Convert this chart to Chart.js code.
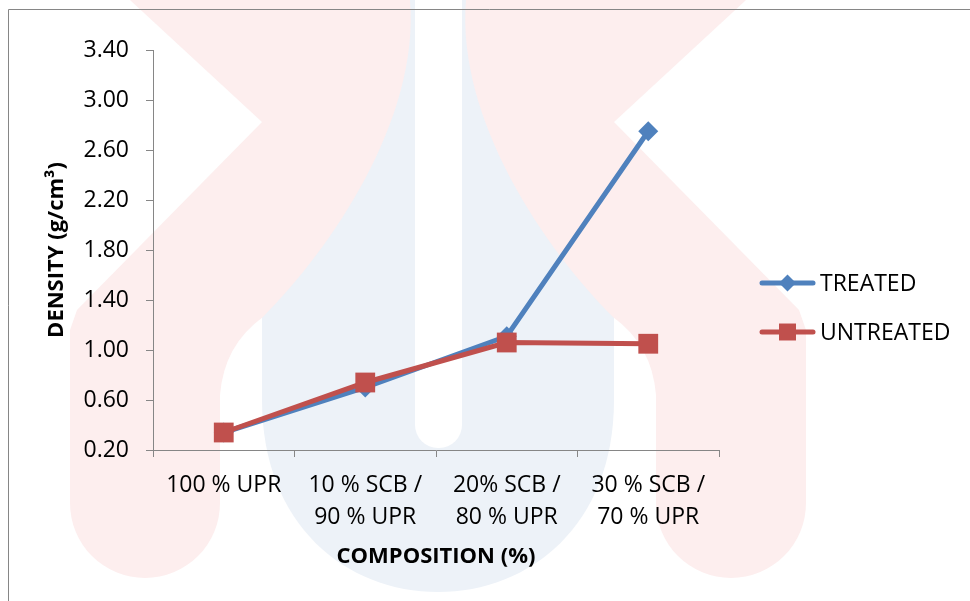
<!DOCTYPE html>
<html>
<head>
<meta charset="utf-8">
<script src="https://cdn.jsdelivr.net/npm/chart.js@4/dist/chart.umd.min.js"></script>
<style>
  html, body { margin: 0; padding: 0; background: #fff; }
  #c { display: block; }
</style>
</head>
<body>
<canvas id="c" width="970" height="601"></canvas>
<script>
// Composition categories (multi-line tick labels)
const categories = [
  ["100 % UPR"],
  ["10 % SCB /", "90 % UPR"],
  ["20% SCB /", "80 % UPR"],
  ["30 % SCB /", "70 % UPR"]
];

// Density values, g/cm³
const treated   = [0.34, 0.70, 1.11, 2.75];
const untreated = [0.34, 0.74, 1.06, 1.05];

// Y axis tick range
const yMin = 0.2;
const yMax = 3.4;
const yStep = 0.4;

const seriesNames = ["TREATED", "UNTREATED"];
const blue = "#4F81BD";
const red = "#C0504D";
const axisGrey = "#868686";
const FONT = "'Open Sans', 'DejaVu Sans', sans-serif";

function roundRectPath(ctx, x, y, w, h, r) {
  ctx.beginPath();
  ctx.moveTo(x + r, y);
  ctx.lineTo(x + w - r, y);
  ctx.arcTo(x + w, y, x + w, y + r, r);
  ctx.lineTo(x + w, y + h - r);
  ctx.arcTo(x + w, y + h, x + w - r, y + h, r);
  ctx.lineTo(x + r, y + h);
  ctx.arcTo(x, y + h, x, y + h - r, r);
  ctx.lineTo(x, y + r);
  ctx.arcTo(x, y, x + r, y, r);
  ctx.closePath();
}

// One half of the emblem: chevron-edged arm running down into a rounded leg
function emblemHalf(ctx) {
  ctx.beginPath();
  ctx.moveTo(130, 0);
  ctx.lineTo(262, 122);
  ctx.lineTo(77, 310);
  ctx.lineTo(70, 330);
  ctx.lineTo(70, 503);
  ctx.arc(145, 503, 75, Math.PI, 0, true);
  ctx.lineTo(220, 395);
  ctx.quadraticCurveTo(224, 345, 263, 317);
  ctx.bezierCurveTo(330, 250, 420, 120, 410, 0);
  ctx.closePath();
  ctx.fill();
}

// Pale background emblem and the chart frame
const backdrop = {
  id: "backdrop",
  beforeDraw(chart) {
    const ctx = chart.ctx;
    ctx.save();
    ctx.fillStyle = "#ffffff";
    ctx.fillRect(0, 0, chart.width, chart.height);

    const pink = "rgb(253,238,238)";
    const paleBlue = "rgb(237,242,248)";

    // blue U
    ctx.fillStyle = paleBlue;
    ctx.beginPath();
    ctx.moveTo(262, 0);
    ctx.lineTo(614, 0);
    ctx.lineTo(614, 400);
    ctx.bezierCurveTo(614, 525, 530, 592, 438, 592);
    ctx.bezierCurveTo(346, 592, 262, 525, 262, 400);
    ctx.closePath();
    ctx.fill();

    // pink halves, mirrored about the centre
    ctx.fillStyle = pink;
    emblemHalf(ctx);
    ctx.save();
    ctx.translate(876, 0);
    ctx.scale(-1, 1);
    emblemHalf(ctx);
    ctx.restore();

    // centre slot
    ctx.fillStyle = "#ffffff";
    roundRectPath(ctx, 415, -30, 47, 478, 23); ctx.fill();

    // frame
    ctx.strokeStyle = axisGrey;
    ctx.lineWidth = 1;
    ctx.beginPath();
    ctx.moveTo(8.5, 601);
    ctx.lineTo(8.5, 9.5);
    ctx.lineTo(970, 9.5);
    ctx.stroke();
    ctx.restore();
  }
};

// Legend with line + marker samples on the right
const sideLegend = {
  id: "sideLegend",
  afterDraw(chart) {
    const ctx = chart.ctx;
    const rows = [
      { ds: chart.data.datasets[0], y: 283, r: 8.5 },
      { ds: chart.data.datasets[1], y: 332, r: 12 }
    ];
    ctx.save();
    rows.forEach(row => {
      const ds = row.ds;
      ctx.strokeStyle = ds.borderColor;
      ctx.lineWidth = 5;
      ctx.lineCap = "round";
      ctx.beginPath();
      ctx.moveTo(762, row.y);
      ctx.lineTo(813, row.y);
      ctx.stroke();
      ctx.fillStyle = ds.pointBackgroundColor;
      ctx.strokeStyle = ds.pointBackgroundColor;
      Chart.helpers.drawPoint(ctx, {
        pointStyle: ds.pointStyle, radius: row.r, rotation: 0, borderWidth: 0
      }, 787.5, row.y);
      ctx.fillStyle = "#000";
      ctx.font = "23px " + FONT;
      ctx.textBaseline = "middle";
      ctx.textAlign = "left";
      ctx.fillText(ds.label, 820, row.y + 1);
    });
    ctx.restore();
  }
};

new Chart(document.getElementById("c"), {
  type: "line",
  data: {
    labels: categories,
    datasets: [
      {
        label: seriesNames[0],
        data: treated,
        borderColor: blue,
        backgroundColor: blue,
        pointBackgroundColor: blue,
        pointBorderColor: blue,
        borderWidth: 5,
        pointStyle: "rectRot",
        pointRadius: 10,
        pointBorderWidth: 0,
        tension: 0,
        order: 1
      },
      {
        label: seriesNames[1],
        data: untreated,
        borderColor: red,
        backgroundColor: red,
        pointBackgroundColor: red,
        pointBorderColor: red,
        borderWidth: 5,
        pointStyle: "rect",
        pointRadius: 14,
        pointBorderWidth: 0,
        tension: 0,
        order: 0
      }
    ]
  },
  options: {
    responsive: false,
    devicePixelRatio: 1,
    animation: false,
    layout: { padding: { top: 50, right: 251, left: 0, bottom: 0 } },
    plugins: {
      legend: { display: false },
      tooltip: { enabled: false }
    },
    scales: {
      x: {
        type: "category",
        offset: true,
        grid: {
          offset: true,
          drawOnChartArea: false,
          drawTicks: true,
          tickLength: 7,
          color: axisGrey,
          lineWidth: 1
        },
        border: { color: axisGrey, width: 1 },
        ticks: {
          color: "#000",
          font: { family: FONT, size: 23, lineHeight: 1.39 },
          padding: 12,
          maxRotation: 0,
          autoSkip: false
        },
        title: {
          display: true,
          text: "COMPOSITION (%)",
          color: "#000",
          font: { family: FONT, size: 22, weight: "bold" },
          padding: { top: 0, bottom: 31 }
        },
        afterFit(scale) { scale.height = 151; }
      },
      y: {
        min: yMin,
        max: yMax,
        grid: {
          drawOnChartArea: false,
          drawTicks: true,
          tickLength: 7,
          color: axisGrey,
          lineWidth: 1
        },
        border: { color: axisGrey, width: 1 },
        ticks: {
          stepSize: yStep,
          color: "#000",
          font: { family: FONT, size: 23 },
          padding: 17,
          callback: v => Number(v).toFixed(2)
        },
        title: {
          display: true,
          text: "DENSITY (g/cm³)",
          color: "#000",
          font: { family: FONT, size: 22, weight: "bold" },
          padding: { top: 44, bottom: 0 }
        },
        afterFit(scale) { scale.width = 153; }
      }
    }
  },
  plugins: [backdrop, sideLegend]
});
</script>
</body>
</html>
